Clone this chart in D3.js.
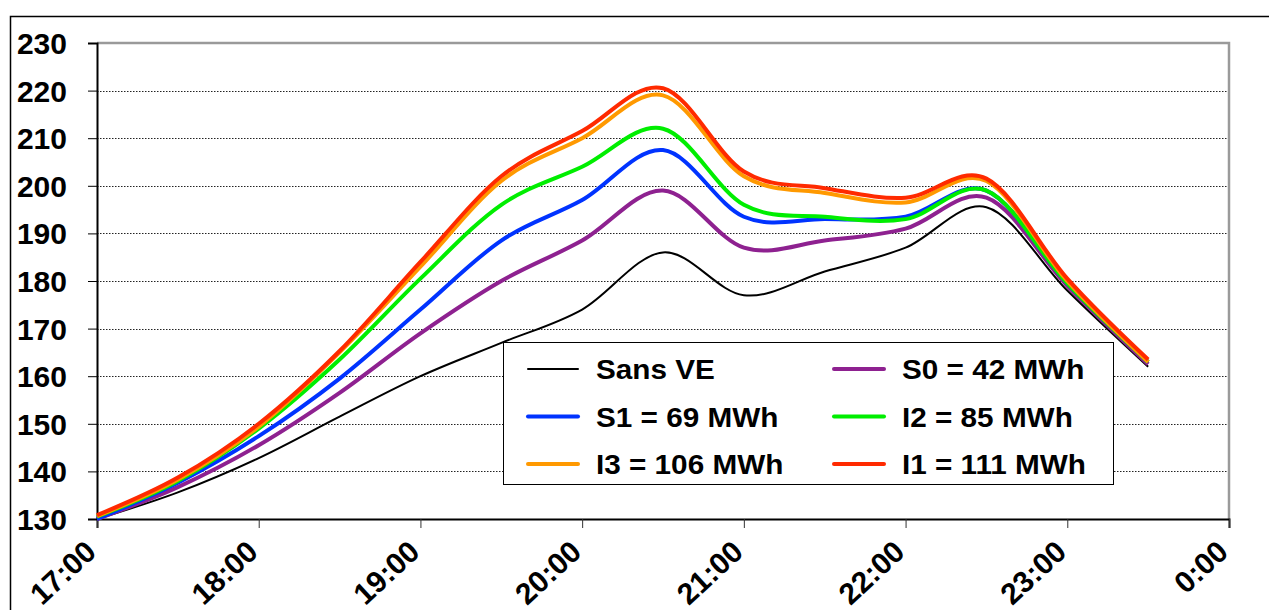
<!DOCTYPE html>
<html>
<head>
<meta charset="utf-8">
<script src="https://cdn.jsdelivr.net/npm/d3@7"></script>
<style>
  body { margin: 0; background: #fff; }
  text { font-family: "Liberation Sans", Arial, sans-serif; font-weight: bold; fill: #000; }
</style>
</head>
<body>
<div id="chart"></div>
<script>
// half-hour time steps (hours)
var times = [17, 17.5, 18, 18.5, 19, 19.5, 20, 20.5, 21, 21.5, 22, 22.5, 23, 23.5];
var xTickValues = [17, 18, 19, 20, 21, 22, 23, 24];
var xTickLabels = ["17:00", "18:00", "19:00", "20:00", "21:00", "22:00", "23:00", "0:00"];
var yTickValues = [130, 140, 150, 160, 170, 180, 190, 200, 210, 220, 230];

var seriesNames = ["Sans VE", "S0 = 42 MWh", "S1 = 69 MWh", "I2 = 85 MWh", "I3 = 106 MWh", "I1 = 111 MWh"];
var seriesColors = ["#000000", "#8e2190", "#0033ff", "#00ee00", "#ff9900", "#ff2a00"];

var sansVE = [130, 135.6, 142.8, 151.5, 160, 167, 174, 186, 177, 182, 187, 195.5, 178, 162];
var s0 = [130, 136.7, 145.5, 156.5, 169, 180, 188.5, 199, 187, 188.5, 191, 197.5, 179, 162.5];
var s1 = [130, 137.6, 147.4, 159.5, 174, 188.5, 197, 207.5, 193.5, 193, 193.5, 199, 179.5, 163];
var i2 = [130.5, 138, 149, 163.5, 180.5, 196, 204, 212, 196, 193.5, 193, 199, 179.5, 163];
var i3 = [130.6, 138.3, 149.4, 165, 183, 201, 210, 219, 202, 198.5, 196.5, 201, 180, 163];
var i1 = [130.8, 138.7, 150, 165.3, 184, 202, 211.5, 220.5, 203, 199.5, 197.5, 201.5, 180.5, 163.5];

var seriesValues = [sansVE, s0, s1, i2, i3, i1];

var width = 1269, height = 610;
var plotLeft = 97, plotRight = 1229, plotTop = 43, plotBottom = 519;

var svg = d3.select("#chart")
  .append("svg")
  .attr("width", width)
  .attr("height", height);

//outer frame
svg.append("rect")
  .attr("x", 10.5).attr("y", 16.5)
  .attr("width", 1300).attr("height", 700)
  .attr("fill", "none")
  .attr("stroke", "#000")
  .attr("stroke-width", 1.5);

var x = d3.scaleLinear().domain([17, 24]).range([plotLeft, plotRight]);
var y = d3.scaleLinear().domain([130, 230]).range([plotBottom, plotTop]);

//dotted gridlines
svg.append("g")
  .selectAll("line")
  .data(yTickValues.slice(1, -1))
  .enter()
  .append("line")
  .attr("x1", plotLeft)
  .attr("x2", plotRight)
  .attr("y1", function(d) { return Math.round(y(d)) + 0.5; })
  .attr("y2", function(d) { return Math.round(y(d)) + 0.5; })
  .attr("stroke", "#222")
  .attr("stroke-width", 1)
  .attr("stroke-dasharray", "1.5,1.5");

//plot border top and right (gray)
svg.append("path")
  .attr("d", "M" + plotLeft + "," + plotTop + "H" + plotRight + "V" + plotBottom)
  .attr("fill", "none")
  .attr("stroke", "#9a9a9a")
  .attr("stroke-width", 2.5);

//y axis
var yAxis = svg.append("g")
  .attr("transform", "translate(" + plotLeft + ",0)")
  .call(d3.axisLeft(y).tickValues(yTickValues).tickSize(9).tickFormat(""));
yAxis.select(".domain").attr("stroke", "#000").attr("stroke-width", 2);
yAxis.selectAll(".tick line").attr("stroke", "#000").attr("stroke-width", 1);

svg.append("g")
  .selectAll("text")
  .data(yTickValues)
  .enter()
  .append("text")
  .attr("x", 67)
  .attr("y", function(d) { return y(d) + 11; })
  .attr("text-anchor", "end")
  .style("font-size", "30px")
  .text(function(d) { return d; });

//x axis
var xAxis = svg.append("g")
  .attr("transform", "translate(0," + plotBottom + ")")
  .call(d3.axisBottom(x).tickValues(xTickValues).tickSize(9).tickFormat(""));
xAxis.select(".domain").attr("stroke", "#000").attr("stroke-width", 2);
xAxis.selectAll(".tick line").attr("stroke", "#333").attr("stroke-width", 1);

svg.append("g")
  .selectAll("text")
  .data(xTickValues)
  .enter()
  .append("text")
  .attr("transform", function(d) {
    return "translate(" + (x(d) + 1) + ",554) rotate(-43)";
  })
  .attr("text-anchor", "end")
  .style("font-size", "30px")
  .text(function(d, i) { return xTickLabels[i]; });

//series lines
var line = d3.line()
  .x(function(d, i) { return x(times[i]); })
  .y(function(d) { return y(d); })
  .curve(d3.curveCardinal.tension(0));

svg.append("g")
  .selectAll("path")
  .data(seriesValues)
  .enter()
  .append("path")
  .attr("d", line)
  .attr("fill", "none")
  .attr("stroke", function(d, i) { return seriesColors[i]; })
  .attr("stroke-width", function(d, i) { return i === 0 ? 2 : 4; })
  .attr("stroke-linejoin", "round");

//legend
var lg = svg.append("g").attr("transform", "translate(503,342)");
lg.append("rect")
  .attr("x", 0.5).attr("y", 0.5)
  .attr("width", 610).attr("height", 142)
  .attr("fill", "#fff")
  .attr("stroke", "#000")
  .attr("stroke-width", 1);

var item = lg.selectAll(".item")
  .data(seriesNames)
  .enter()
  .append("g")
  .attr("transform", function(d, i) {
    return "translate(" + (i % 2 === 0 ? 25 : 331) + "," + (27 + Math.floor(i / 2) * 47.5) + ")";
  });
item.append("line")
  .attr("x1", 0).attr("x2", 50)
  .attr("stroke", function(d, i) { return seriesColors[i]; })
  .attr("stroke-width", function(d, i) { return i === 0 ? 2 : 4; })
  .attr("stroke-linecap", "round");
item.append("text")
  .attr("transform", "translate(68,10) scale(1.1,1)")
  .style("font-size", "27px")
  .text(function(d) { return d; });
</script>
</body>
</html>
